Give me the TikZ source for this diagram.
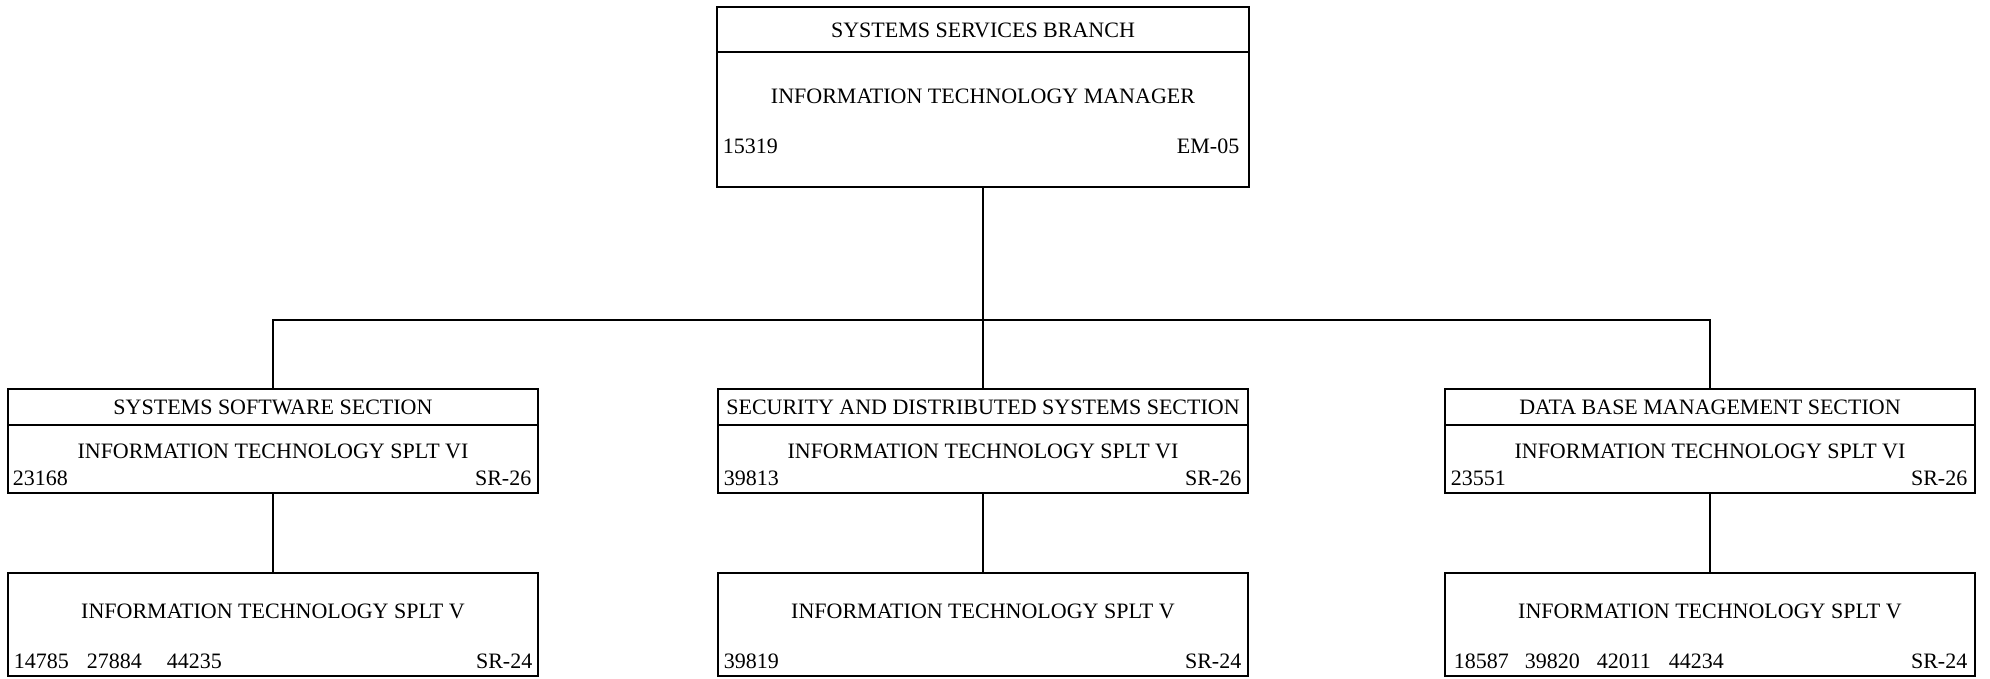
\documentclass[tikz,border=0pt]{standalone}
\usepackage{fontspec}
\setmainfont{Liberation Serif}
\begin{document}
\begin{tikzpicture}[x=1pt,y=-1pt,line width=1.5pt,
  box/.style={draw,rectangle,inner sep=0pt,outer sep=0pt,anchor=north west,minimum width=530pt},
  txt/.style={inner sep=0pt,anchor=base,font=\fontsize{22}{26}\selectfont},
  ltxt/.style={txt,anchor=base west},
  rtxt/.style={txt,anchor=base east}]
\useasboundingbox (0,0) rectangle (1990,678);
% boxes
\node[box,minimum width=532pt,minimum height=180pt] (top) at (717,7) {};
\draw ([yshift=-45pt]top.north west) -- ([yshift=-45pt]top.north east);
\node[box,minimum height=104pt] (L1) at (8,389) {};
\node[box,minimum height=104pt] (C1) at (718,389) {};
\node[box,minimum height=104pt] (R1) at (1445,389) {};
\foreach \n in {L1,C1,R1}{\draw ([yshift=-36pt]\n.north west) -- ([yshift=-36pt]\n.north east);}
\node[box,minimum height=103pt] (L2) at (8,573) {};
\node[box,minimum height=103pt] (C2) at (718,573) {};
\node[box,minimum height=103pt] (R2) at (1445,573) {};
% connectors
\coordinate (bus) at (983,320);
\draw (top.south) -- (bus);
\draw (L1.north) |- (bus) -| (R1.north);
\draw (bus) -- (C1.north);
\draw (L1.south) -- (L2.north);
\draw (C1.south) -- (C2.north);
\draw (R1.south) -- (R2.north);
% top texts
\node[txt] (t1) at (983,37) {SYSTEMS SERVICES BRANCH};
\node[txt] (t2) at (983,103) {INFORMATION TECHNOLOGY MANAGER};
\node[ltxt] (t3) at (722,153) {15319};
\node[rtxt] (t4) at (1240,153) {EM-05};
% middle row
\node[txt] (l1) at (273,414) {SYSTEMS SOFTWARE SECTION};
\node[txt] (l2) at (273,458) {INFORMATION TECHNOLOGY SPLT VI};
\node[ltxt] (l3) at (12,485) {23168};
\node[rtxt] (l4) at (532,485) {SR-26};
\node[txt] (c1) at (983,414) {SECURITY AND DISTRIBUTED SYSTEMS SECTION};
\node[txt] (c2) at (983,458) {INFORMATION TECHNOLOGY SPLT VI};
\node[ltxt] (c3) at (723,485) {39813};
\node[rtxt] (c4) at (1242,485) {SR-26};
\node[txt] (r1) at (1710,414) {DATA BASE MANAGEMENT SECTION};
\node[txt] (r2) at (1710,458) {INFORMATION TECHNOLOGY SPLT VI};
\node[ltxt] (r3) at (1450,485) {23551};
\node[rtxt] (r4) at (1968,485) {SR-26};
% bottom row
\node[txt] (l5) at (273,618) {INFORMATION TECHNOLOGY SPLT V};
\node[ltxt] (l6) at (13,668) {14785};
\node[ltxt] (l7) at (86,668) {27884};
\node[ltxt] (l8) at (166,668) {44235};
\node[rtxt] (l9) at (533,668) {SR-24};
\node[txt] (c5) at (983,618) {INFORMATION TECHNOLOGY SPLT V};
\node[ltxt] (c6) at (723,668) {39819};
\node[rtxt] (c7) at (1242,668) {SR-24};
\node[txt] (r5) at (1710,618) {INFORMATION TECHNOLOGY SPLT V};
\node[ltxt] (r6) at (1453,668) {18587};
\node[ltxt] (r7) at (1524,668) {39820};
\node[ltxt] (r8) at (1596,668) {42011};
\node[ltxt] (r9) at (1668,668) {44234};
\node[rtxt] (r10) at (1968,668) {SR-24};
\end{tikzpicture}
\end{document}
